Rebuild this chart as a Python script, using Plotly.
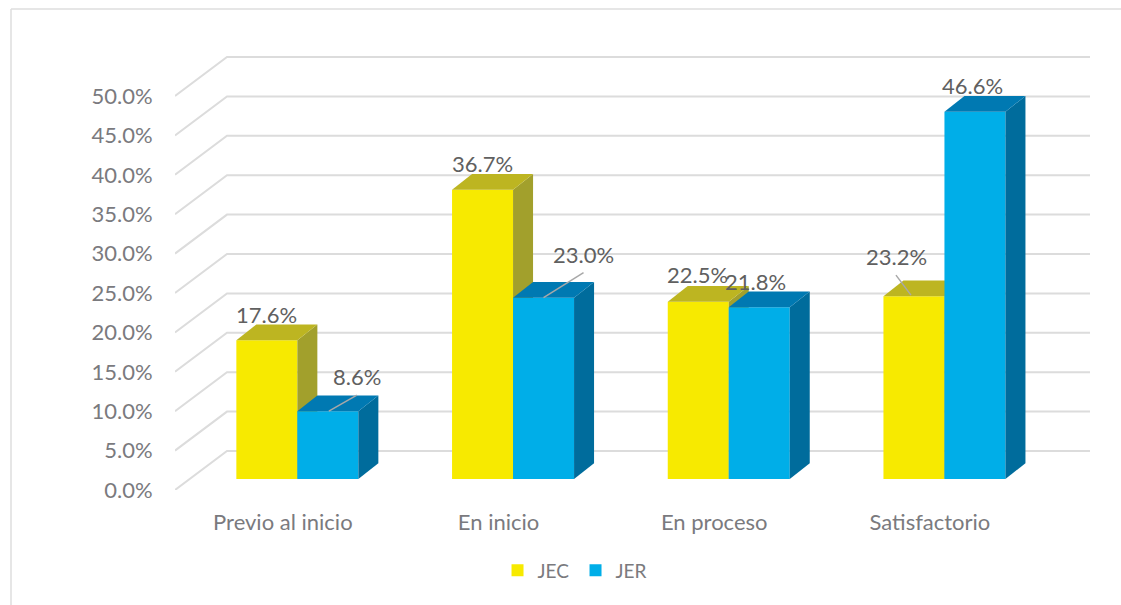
import plotly.graph_objects as go

CATEGORIES = ["Previo al inicio", "En inicio", "En proceso", "Satisfactorio"]
JEC = [17.6, 36.7, 22.5, 23.2]
JER = [8.6, 23.0, 21.8, 46.6]
TICKS = [0, 5, 10, 15, 20, 25, 30, 35, 40, 45, 50]

# plot geometry (pixels)
W, H = 1121, 605
LEFT, RIGHT, TOP, BOTTOM = 175, 1090, 40, 490
PX_PER_CAT = 215.7
PX_PER_PCT = 7.88
X0 = -0.5
X1 = X0 + (RIGHT - LEFT) / PX_PER_CAT
Y1 = (BOTTOM - TOP) / PX_PER_PCT

FLOOR = 1.4                 # bar foot above the axis origin
SHIFT = 14.5 / PX_PER_CAT   # bars sit mid-depth
BAR_W = 61 / PX_PER_CAT
DX, DY = 20 / PX_PER_CAT, 2.0
WALL_DX, WALL_DY = 52 / PX_PER_CAT, 4.95

TEXT_DARK = "#606060"
TEXT = "#7a7a7e"
FONT = "Lato"
FS = 22

fig = go.Figure()

# back wall and side wall gridlines
gx, gy = [], []
for t in TICKS:
    gx += [X0, X0 + WALL_DX, X1, None]
    gy += [t, t + WALL_DY, t + WALL_DY, None]
fig.add_trace(go.Scatter(x=gx, y=gy, mode="lines", showlegend=False, hoverinfo="skip",
                         line=dict(color="#dcdcdc", width=2)))


def add_series(name, values, offset, front, top, side, axis):
    xa, ya = f"x{axis}", f"y{axis}"
    xs = [i + SHIFT + offset for i in range(len(values))]
    fig.add_trace(go.Bar(x=xs, y=values, base=FLOOR, width=BAR_W, name=name,
                         marker=dict(color=front, line=dict(width=0)),
                         xaxis=xa, yaxis=ya))
    for x, v in zip(xs, values):
        l, r = x - BAR_W / 2, x + BAR_W / 2
        t = FLOOR + v
        fig.add_trace(go.Scatter(
            x=[r, r + DX, r + DX, r, r], y=[FLOOR, FLOOR + DY, t + DY, t, FLOOR],
            fill="toself", fillcolor=side, mode="lines", line=dict(width=0),
            showlegend=False, hoverinfo="skip", xaxis=xa, yaxis=ya))
        fig.add_trace(go.Scatter(
            x=[l, l + DX, r + DX, r, l], y=[t, t + DY, t + DY, t, t],
            fill="toself", fillcolor=top, mode="lines", line=dict(width=0),
            showlegend=False, hoverinfo="skip", xaxis=xa, yaxis=ya))
    return xs


xs_jec = add_series("JEC", JEC, -BAR_W / 2, "#F7EA00", "#BDB521", "#A2A02C", 2)
xs_jer = add_series("JER", JER, BAR_W / 2, "#00AEE8", "#0079B2", "#006C9C", 3)

# data labels: (x, value, dx px, dy px, leader)
labels = [
    (xs_jec[0], JEC[0], 0, 26, None),
    (xs_jer[0], JER[0], 29, 35, (1, 0, 29, 16)),
    (xs_jec[1], JEC[1], 0, 26, None),
    (xs_jer[1], JER[1], 40, 43, (0, 0, 40, 25)),
    (xs_jec[2], JEC[2], -1, 27, None),
    (xs_jer[2], JER[2], -4, 26, None),
    (xs_jec[3], JEC[3], -17, 40, (-3, 1, -18, 21)),
    (xs_jer[3], JER[3], -2, 26, None),
]
shapes = [dict(type="line", xref="paper", yref="paper", layer="above",
               x0=(11 - LEFT) / (RIGHT - LEFT), x1=(W - LEFT) / (RIGHT - LEFT),
               y0=(BOTTOM - 9) / (BOTTOM - TOP), y1=(BOTTOM - 9) / (BOTTOM - TOP),
               line=dict(color="#dedede", width=1.5)),
          dict(type="line", xref="paper", yref="paper", layer="above",
               x0=(11 - LEFT) / (RIGHT - LEFT), x1=(11 - LEFT) / (RIGHT - LEFT),
               y0=(BOTTOM - 9) / (BOTTOM - TOP), y1=(BOTTOM - H) / (BOTTOM - TOP),
               line=dict(color="#dedede", width=1.5))]
annotations = []
for x, v, dx, dy, leader in labels:
    annotations.append(dict(x=x, y=FLOOR + v, xref="x", yref="y", text=f"{v:.1f}%",
                            showarrow=False, xshift=dx, yshift=dy,
                            xanchor="center", yanchor="middle",
                            font=dict(family=FONT, size=FS, color=TEXT_DARK)))
    if leader:
        a, b, c, d = leader
        shapes.append(dict(type="line", layer="above", xref="x", yref="y",
                           xsizemode="pixel", ysizemode="pixel",
                           xanchor=x, yanchor=FLOOR + v,
                           x0=a, y0=b, x1=c, y1=d,
                           line=dict(color="#a8a8a8", width=1.5)))

hidden = dict(range=[X0, X1], visible=False, fixedrange=True)
hidden_y = dict(range=[0, Y1], visible=False, fixedrange=True)

fig.update_layout(
    width=W, height=H,
    margin=dict(l=LEFT, r=W - RIGHT, t=TOP, b=H - BOTTOM, pad=0),
    paper_bgcolor="white", plot_bgcolor="white",
    font=dict(family=FONT, size=FS, color=TEXT),
    barmode="overlay",
    shapes=shapes, annotations=annotations,
    xaxis=dict(range=[X0, X1], tickmode="array", tickvals=list(range(len(CATEGORIES))),
               ticktext=CATEGORIES, showgrid=False, zeroline=False, showline=False,
               ticks="outside", ticklen=13, tickcolor="rgba(0,0,0,0)",
               tickfont=dict(family=FONT, size=FS, color=TEXT), fixedrange=True),
    yaxis=dict(range=[0, Y1], tickmode="array", tickvals=TICKS,
               ticktext=[f"{t:.1f}%" for t in TICKS], showgrid=False, zeroline=False,
               showline=False, ticks="outside", ticklen=17, tickcolor="rgba(0,0,0,0)",
               tickfont=dict(family=FONT, size=FS, color=TEXT), fixedrange=True),
    xaxis2=dict(overlaying="x", **hidden),
    yaxis2=dict(overlaying="y", **hidden_y),
    xaxis3=dict(overlaying="x", **hidden),
    yaxis3=dict(overlaying="y", **hidden_y),
    legend=dict(orientation="h", xref="container", yref="container",
                x=0.5134, y=0.057, xanchor="center", yanchor="middle",
                font=dict(family=FONT, size=19, color=TEXT),
                entrywidth=33, entrywidthmode="pixels",
                bgcolor="rgba(0,0,0,0)", itemwidth=30),
)

fig.write_html("out.html", config=dict(displayModeBar=False),
               post_script="document.body.style.margin='0';document.body.style.overflow='hidden';")
